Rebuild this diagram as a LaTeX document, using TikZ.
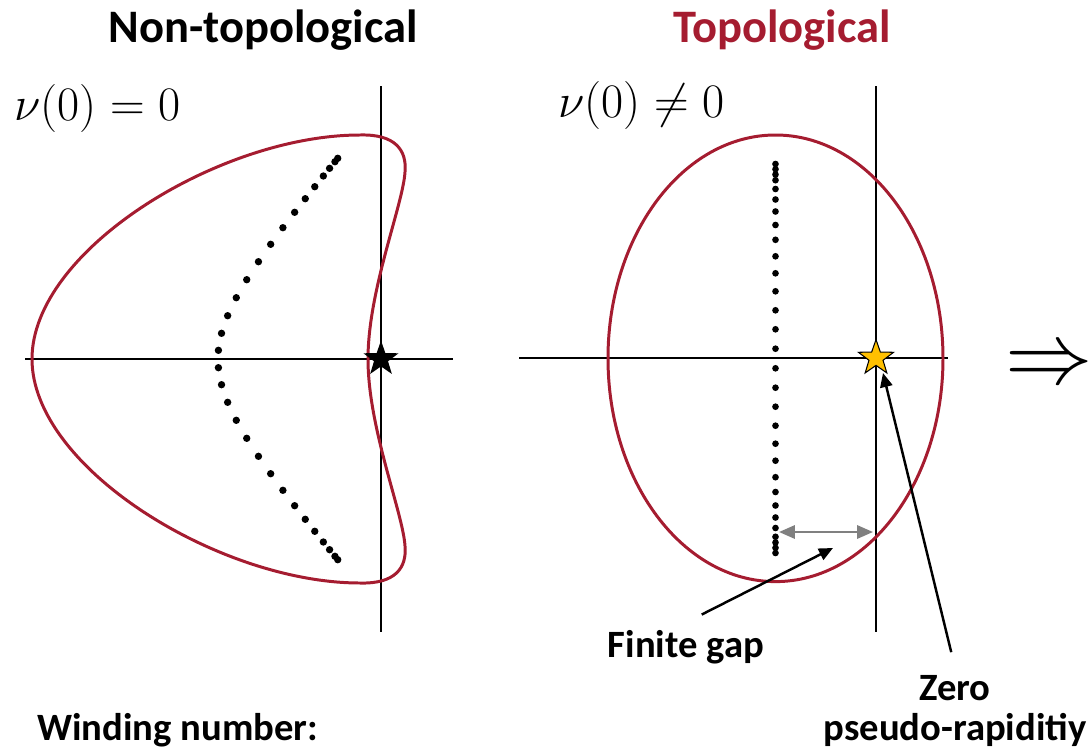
\documentclass[tikz,border=0pt]{standalone}
\usepackage{fontspec}
\setmainfont{Carlito}
\usetikzlibrary{arrows.meta,shapes.geometric,positioning}

\begin{document}
\begin{tikzpicture}[x=0.02cm, y=-0.02cm,
    axis/.style={line width=1.1pt},
    contour/.style={draw=contourRed, line width=1.7pt},
    pointer/.style={line width=1.4pt, -{Triangle[length=8pt,width=7pt]}},
    gapArrow/.style={draw=gapGray, line width=1.3pt,
        {Triangle[length=9pt,width=7.5pt]}-{Triangle[length=9pt,width=7.5pt]}},
    title/.style={font=\fontsize{26.5}{30}\selectfont\bfseries, inner sep=0pt},
    lbl/.style={font=\fontsize{22}{26}\selectfont\bfseries, inner sep=4pt},
    mathlbl/.style={font=\fontsize{24.88}{30}\selectfont, inner sep=0pt, scale=1.1}]
    \definecolor{contourRed}{HTML}{A51C30}
    \definecolor{starYellow}{HTML}{FFC000}
    \definecolor{gapGray}{HTML}{808080}

    \useasboundingbox (0,0) rectangle (1089,754);

    % Titles
    \node[title, anchor=base] (ntTitle) at (263,42) {Non-topological};
    \node[title, anchor=base, text=contourRed] (tTitle) at (782,42) {Topological};
    \node[mathlbl, anchor=base west] (nuZero) at (14,120) {$\nu(0) = 0$};
    \node[mathlbl, anchor=base west] (nuNonzero) at (558,117) {$\nu(0) \neq 0$};

    % Left panel: axes
    \draw[axis] (25,359) -- (453,359);
    \draw[axis] (381,86) -- (381,632);

    % Left panel: contour
    \draw[contour] (32,359) .. controls (32,250) and (220,135) .. (360,135)
        .. controls (395,134) and (407,150) .. (405,172)
        .. controls (403,205) and (368,290) .. (368,359)
        .. controls (368,428) and (403,513) .. (405,546)
        .. controls (407,568) and (395,584) .. (360,583)
        .. controls (220,583) and (32,468) .. (32,359) -- cycle;

    % Left panel: spectrum
    \foreach \d in {8.7,25.7,43.3,61.3,79.3,97.3,114.7,131.3,146.7,160.3,172.3,183,190.7,197.3,200.7} {
        \pgfmathsetmacro{\px}{218+70.4*(sqrt(1+(\d/80)^2)-1)}
        \fill (\px,359-\d) circle (2.1pt);
        \fill (\px,359+\d) circle (2.1pt);
    }

    \node[star, star points=5, star point ratio=2.5, fill=black,
        minimum size=21pt, inner sep=0pt] (bstar) at (381,359) {};

    % Right panel: axes
    \draw[axis] (519,358) -- (948,358);
    \draw[axis] (876,86) -- (876,632);

    % Right panel: contour
    \draw[contour] (775.5,358.3) ellipse [x radius=167.5, y radius=223.3];

    % Right panel: spectrum
    \foreach \d in {9.8,29.2,48.2,67.2,85.2,102.2,118.7,133.5,147,159,169.5,178.3,184,189.3,194.5} {
        \fill (775.5,358.5-\d) circle (1.9pt);
        \fill (775.5,358.5+\d) circle (1.9pt);
    }

    \node[star, star points=5, star point ratio=2.5, fill=starYellow, draw=black,
        line width=0.6pt, minimum size=21pt, inner sep=0pt] (ystar) at (876,358) {};

    % Gap between spectrum and origin
    \coordinate (gapL) at (779,532);
    \coordinate (gapR) at (873,532);
    \draw[gapArrow] (gapL) -- (gapR);

    % Labels
    \coordinate (gapTip) at (833,548);
    \coordinate (rapTip) at (883,373);
    \node[lbl, anchor=base] (gaplbl) at (686,657) {Finite gap};
    \node[lbl, anchor=base] (zerolbl) at (955,700) {Zero};
    \node[lbl, anchor=base] (raplbl) at (955,740) {pseudo-rapiditiy};
    \node[lbl, anchor=base west, inner sep=0pt] (windlbl) at (37,740) {Winding number:};
    \draw[pointer, shorten <=10pt] (gaplbl.north) -- (gapTip);
    \draw[pointer, shorten <=9pt] (zerolbl.north) -- (rapTip);

    \node[anchor=west, inner sep=0pt, scale=2, font=\fontsize{24.88}{30}\selectfont] (implies) at (1005,367) {$\Rightarrow$};

\end{tikzpicture}
\end{document}
